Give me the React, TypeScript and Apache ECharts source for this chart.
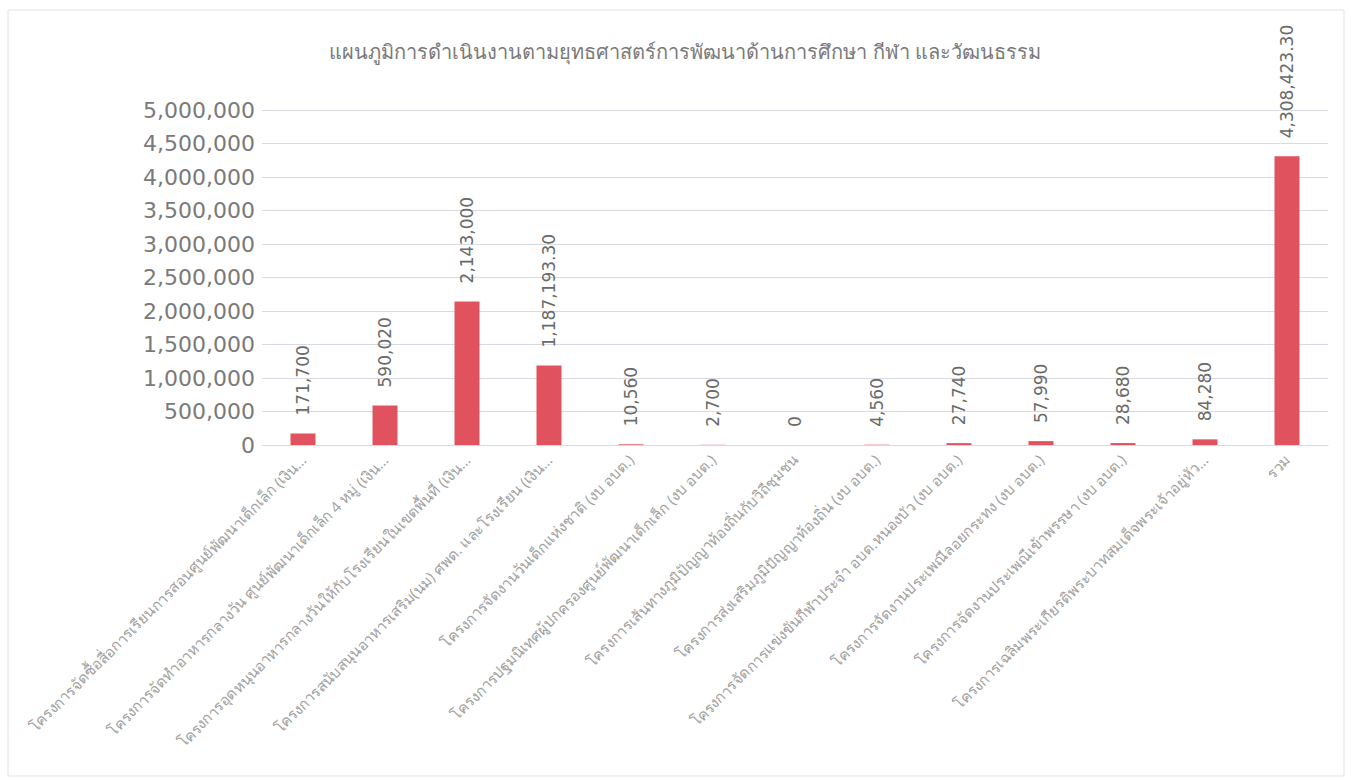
import React, { useEffect, useRef } from "react";
import * as echarts from "echarts";

const TITLE = "แผนภูมิการดำเนินงานตามยุทธศาสตร์การพัฒนาด้านการศึกษา กีฬา และวัฒนธรรม";

const categories: string[] = [
  "โครงการจัดซื้อสื่อการเรียนการสอนศูนย์พัฒนาเด็กเล็ก (เงิน...",
  "โครงการจัดทำอาหารกลางวัน ศูนย์พัฒนาเด็กเล็ก 4 หมู่ (เงิน...",
  "โครงการอุดหนุนอาหารกลางวันให้กับโรงเรียนในเขตพื้นที่ (เงิน...",
  "โครงการสนับสนุนอาหารเสริม(นม) ศพด. และโรงเรียน (เงิน...",
  "โครงการจัดงานวันเด็กแห่งชาติ (งบ อบต.)",
  "โครงการปฐมนิเทศผู้ปกครองศูนย์พัฒนาเด็กเล็ก (งบ อบต.)",
  "โครงการเส้นทางภูมิปัญญาท้องถิ่นกับวิถีชุมชน",
  "โครงการส่งเสริมภูมิปัญญาท้องถิ่น (งบ อบต.)",
  "โครงการจัดการแข่งขันกีฬาประจำ อบต.หนองบัว (งบ อบต.)",
  "โครงการจัดงานประเพณีลอยกระทง (งบ อบต.)",
  "โครงการจัดงานประเพณีเข้าพรรษา (งบ อบต.)",
  "โครงการเฉลิมพระเกียรติพระบาทสมเด็จพระเจ้าอยู่หัว...",
  "รวม",
];

const values: number[] = [
  171700, 590020, 2143000, 1187193.3, 10560, 2700, 0, 4560, 27740, 57990, 28680, 84280, 4308423.3,
];

const yMin = 0;
const yMax = 5000000;
const yInterval = 500000;

const fmtInt = new Intl.NumberFormat("en-US", { maximumFractionDigits: 0 });
const fmtDec = new Intl.NumberFormat("en-US", { minimumFractionDigits: 2, maximumFractionDigits: 2 });
const fmtValue = (v: number) => (Number.isInteger(v) ? fmtInt.format(v) : fmtDec.format(v));

const FONT = "'Open Sans', 'Noto Sans', 'DejaVu Sans', sans-serif";
const NUMFONT = "'DejaVu Sans', sans-serif";

export default function App() {
  const ref = useRef<HTMLDivElement>(null);

  useEffect(() => {
    if (!ref.current) return;
    const chart = echarts.init(ref.current, undefined, { renderer: "svg" });
    chart.setOption({
      animation: false,
      backgroundColor: "#ffffff",
      title: {
        text: TITLE,
        left: 680,
        textAlign: "center",
        top: 36,
        textStyle: { fontSize: 20, fontWeight: "normal", color: "#7a7a7a", fontFamily: FONT },
      },
      graphic: [
        {
          type: "rect",
          shape: { x: 8, y: 10, width: 1336, height: 766 },
          style: { fill: "none", stroke: "#e2e2e2", lineWidth: 1 },
          silent: true,
        },
      ],
      grid: { left: 262, right: 23, top: 110, bottom: 337, containLabel: false },
      xAxis: {
        type: "category",
        data: categories,
        axisLine: { show: true, lineStyle: { color: "#d9d9d9" } },
        axisTick: { show: false },
        axisLabel: {
          interval: 0,
          rotate: 45,
          fontSize: 15,
          color: "#a0a0a0",
          fontFamily: FONT,
          margin: 12,
        },
      },
      yAxis: {
        type: "value",
        min: yMin,
        max: yMax,
        interval: yInterval,
        axisLine: { show: false },
        axisTick: { show: false },
        splitLine: { lineStyle: { color: "#d9d9e3", width: 1 } },
        axisLabel: {
          formatter: (v: number) => fmtInt.format(v),
          fontSize: 22,
          color: "#7a7a7a",
          fontFamily: NUMFONT,
          margin: 7,
        },
      },
      series: [
        {
          type: "bar",
          data: values,
          barWidth: 25,
          itemStyle: { color: "#e0525e" },
          label: {
            show: true,
            position: "top",
            rotate: 90,
            align: "left",
            verticalAlign: "middle",
            distance: 18,
            fontSize: 17,
            color: "#6a6a6a",
            fontFamily: NUMFONT,
            formatter: (p: any) => fmtValue(p.value),
          },
        },
      ],
    });
    return () => chart.dispose();
  }, []);

  return (
    <div
      ref={ref}
      style={{ position: "absolute", left: 0, top: 0, width: 1351, height: 782 }}
    />
  );
}
